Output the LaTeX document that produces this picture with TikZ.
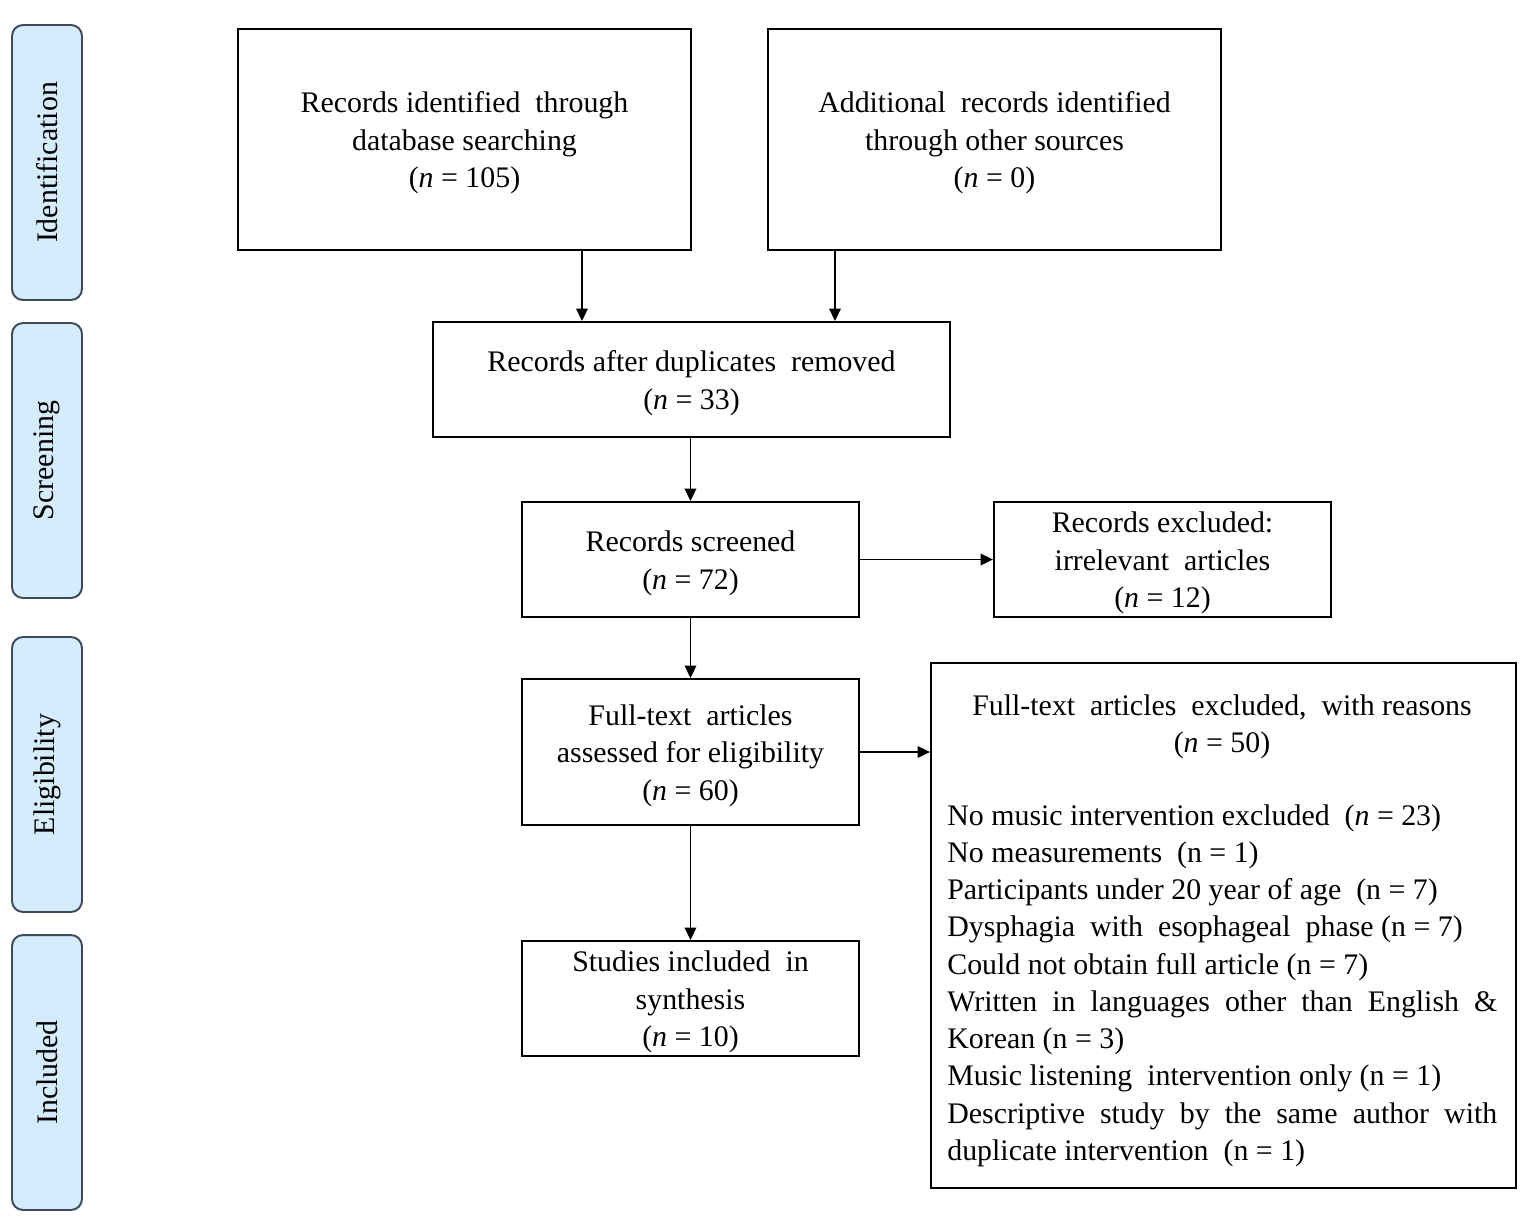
\documentclass[tikz,border=0pt]{standalone}
\usepackage{fontspec}
\setmainfont{Liberation Serif}
\usetikzlibrary{arrows.meta}
\definecolor{tabfill}{HTML}{D4ECFB}
\definecolor{tabdraw}{HTML}{3C4A5A}
\newcommand{\topgap}{\rule{0pt}{15.8pt}}
\begin{document}
\begin{tikzpicture}[x=0.02cm,y=-0.02cm,
  every node/.style={font=\fontsize{17}{21.4}\selectfont},
  box/.style={draw=black, line width=1.1pt, align=center, inner sep=0pt},
  tab/.style={draw=tabdraw, fill=tabfill, line width=1.1pt, rounded corners=0.22cm,
    minimum width=1.4cm, minimum height=5.5cm, inner sep=0pt},
  tablabel/.style={rotate=90, inner sep=0pt},
  arr/.style={line width=1.1pt, -{Triangle[length=0.25cm,width=0.23cm]}},
  plain/.style={inner sep=0pt, align=left}]
\useasboundingbox (0,0) rectangle (1535,1220);

% phase tabs
\node[tab] (t1) at (47,162.5) {};
\node[tablabel] (l1) at (t1.center) {Identification};
\node[tab] (t2) at (47,460.5) {};
\node[tablabel] (l2) at (t2.center) {Screening};
\node[tab] (t3) at (47,774.5) {};
\node[tablabel] (l3) at (t3.center) {Eligibility};
\node[tab] (t4) at (47,1072.5) {};
\node[tablabel] (l4) at (t4.center) {Included};

% boxes
\node[box, minimum width=9.06cm, minimum height=4.42cm] (A) at (464.5,139.5)
  {\topgap Records identified\ \ through\\ database searching\\ (\textit{n} = 105)};
\node[box, minimum width=9.06cm, minimum height=4.42cm] (B) at (994.5,139.5)
  {\topgap Additional\ \ records identified\\ through other sources\\ (\textit{n} = 0)};
\node[box, minimum width=10.34cm, minimum height=2.3cm] (C) at (691.5,379.5)
  {\topgap Records after duplicates\ \ removed\\ (\textit{n} = 33)};
\node[box, minimum width=6.74cm, minimum height=2.3cm] (D) at (690.5,559.5)
  {\topgap Records screened\\ (\textit{n} = 72)};
\node[box, minimum width=6.74cm, minimum height=2.3cm] (E) at (1162.5,559.5)
  {\topgap Records excluded:\\ irrelevant\ \ articles\\ (\textit{n} = 12)};
\node[box, minimum width=6.74cm, minimum height=2.92cm] (F) at (690.5,752)
  {\topgap Full-text\ \ articles\\ assessed for eligibility\\ (\textit{n} = 60)};
\node[box, minimum width=6.74cm, minimum height=2.3cm] (H) at (690.5,998.5)
  {\topgap Studies included\ \ in\\ synthesis\\ (\textit{n} = 10)};
\node[box, minimum width=11.7cm, minimum height=10.5cm] (G) at (1223.5,925.5) {};
\node[plain, align=center] (Gh) at (1222,727)
  {Full-text\ \ articles\ \ excluded,\ \ with reasons\\ (\textit{n} = 50)};
\node[plain, anchor=north west, font=\fontsize{17}{21.2}\selectfont] (Gl) at (947,804)
  {No music\ intervention\ excluded\ \ (\textit{n} = 23)\\
   No measurements\ \ (n = 1)\\
   Participants\ under 20 year of age\ \ (n = 7)\\
   Dysphagia\ \ with\ \ esophageal\ \ phase\ (n = 7)\\
   Could not obtain full article\ (n = 7)\\
   \makebox[11cm][s]{Written in languages other than English \&}\\
   Korean (n = 3)\\
   Music listening\ \ intervention only\ (n = 1)\\
   \makebox[11cm][s]{Descriptive study by the same author with}\\
   duplicate intervention\ \ (n = 1)};

% connectors
\draw[arr] (A.south -| 582,0) -- (C.north -| 582,0);
\draw[arr] (B.south -| 835,0) -- (C.north -| 835,0);
\draw[arr] (C.south -| D.north) -- (D.north);
\draw[arr] (D.east) -- (E.west);
\draw[arr] (D.south) -- (F.north);
\draw[arr] (F.east) -- (F.east -| G.west);
\draw[arr] (F.south) -- (H.north);
\end{tikzpicture}
\end{document}
